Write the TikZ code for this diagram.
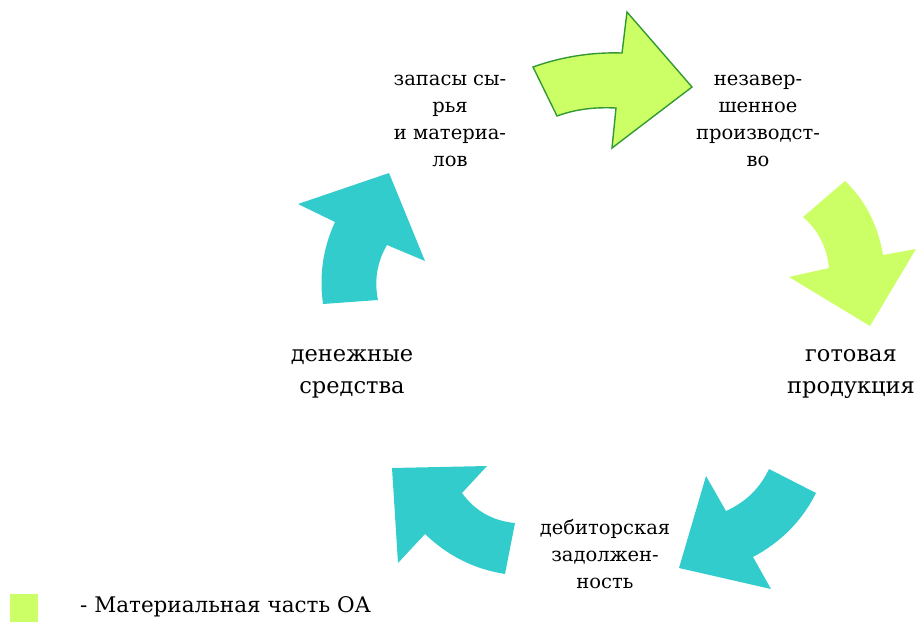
\documentclass[tikz,border=0pt]{standalone}
\usepackage{fontspec}
\setmainfont{DejaVu Serif}
\newfontfamily\labelfont{DejaVu Serif}
\definecolor{lime}{HTML}{CCFF66}
\definecolor{limeedge}{HTML}{339933}
\definecolor{teal}{HTML}{33CCCC}
\begin{document}
\begin{tikzpicture}[x=1pt,y=-1pt,
  stage/.style={align=center,font=\labelfont\fontsize{19.5}{27}\selectfont,inner sep=0pt},
  bigstage/.style={align=center,font=\labelfont\fontsize{22.5}{32}\selectfont,inner sep=0pt},
  material/.style={fill=lime,draw=none},
  money/.style={fill=teal,draw=none}]
\useasboundingbox (0,0) rectangle (916,622);

% stage labels
\node[stage] (zapasy) at (450,121) {запасы сы-\\рья\\ и материа-\\лов};
\node[stage] (nezav) at (758,121) {незавер-\\шенное\\производст-\\во};
\node[bigstage] (gotov) at (851,374) {готовая\\продукция};
\node[stage] (debit) at (605,554) {дебиторская\\задолжен-\\ность};
\node[bigstage] (dengi) at (352,374) {денежные\\средства};

% curved arrows between the stages
\draw[material,draw=limeedge,line width=1.4pt,line join=miter]
  (533,67) .. controls (561,57) and (591,52) .. (622,53) -- (627,12) -- (692,87)
  -- (612,148) -- (616,108) .. controls (595,107) and (576,109) .. (557,116) -- cycle;
\path[material]
  (845,181) .. controls (865,200) and (878,225) .. (883,255) -- (916,249) -- (870,326)
  -- (789,277) -- (829,268) .. controls (827,247) and (818,230) .. (803,217) -- cycle;
\path[money]
  (816,493) .. controls (802,521) and (781,542) .. (753,557) -- (771,589) -- (679,568)
  -- (706,476) -- (726,511) .. controls (746,502) and (760,488) .. (769,469) -- cycle;
\path[money]
  (515,523) .. controls (493,521) and (475,511) .. (462,493) -- (487,466) -- (392,468)
  -- (398,563) -- (425,534) .. controls (448,556) and (474,569) .. (505,574) -- cycle;
\path[money]
  (378,300) .. controls (374,281) and (377,262) .. (387,245) -- (425,261) -- (389,173)
  -- (298,204) -- (335,222) .. controls (323,248) and (319,275) .. (323,304) -- cycle;

% legend
\path[material] (10,594) rectangle (38,622);
\node[anchor=west,inner sep=0pt,font=\labelfont\fontsize{21.5}{28}\selectfont] (legend) at (80,607) {- Материальная часть ОА};
\end{tikzpicture}
\end{document}
